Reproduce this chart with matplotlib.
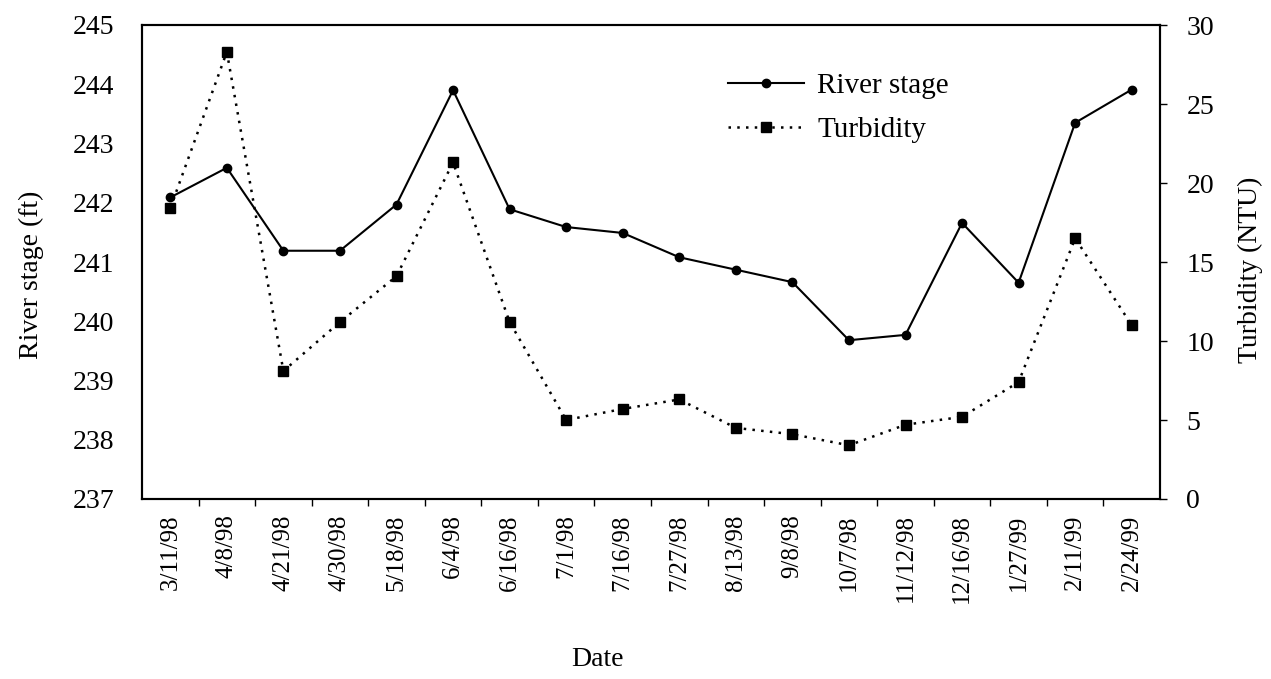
import matplotlib
matplotlib.use("Agg")
import matplotlib.pyplot as plt
from matplotlib.ticker import FixedLocator

plt.rcParams['font.family'] = ['Liberation Serif', 'DejaVu Serif']

dates = ["3/11/98", "4/8/98", "4/21/98", "4/30/98", "5/18/98", "6/4/98",
         "6/16/98", "7/1/98", "7/16/98", "7/27/98", "8/13/98", "9/8/98",
         "10/7/98", "11/12/98", "12/16/98", "1/27/99", "2/11/99", "2/24/99"]
river_stage = [242.09, 242.59, 241.19, 241.19, 241.97, 243.90, 241.89, 241.59,
               241.49, 241.08, 240.87, 240.66, 239.68, 239.77, 241.66, 240.65,
               243.35, 243.91]
turbidity = [18.4, 28.3, 8.1, 11.2, 14.1, 21.3, 11.2, 5.0, 5.7, 6.3, 4.5, 4.1,
             3.4, 4.7, 5.2, 7.4, 16.5, 11.0]
left_ticks = [237, 238, 239, 240, 241, 242, 243, 244, 245]
right_ticks = [0, 5, 10, 15, 20, 25, 30]

fig = plt.figure(figsize=(12.71, 6.79), dpi=100)
ax = fig.add_axes([142/1271, 1-499/679, (1160-142)/1271, (499-25)/679])
ax2 = ax.twinx()

x = list(range(len(dates)))
l1, = ax.plot(x, river_stage, color='black', lw=1.5, marker='o', markersize=6,
              label='River stage', zorder=3)
l2, = ax2.plot(x, turbidity, color='black', lw=1.8, linestyle=(0, (1, 2.5)),
               marker='s', markersize=7, label='Turbidity', zorder=3)

ax.set_xlim(-0.5, len(dates) - 0.5)
ax.set_ylim(237, 245)
ax2.set_ylim(0, 30)
ax.set_yticks(left_ticks)
ax2.set_yticks(right_ticks)
ax.set_xticks(x)
ax.set_xticklabels(dates, rotation=90, fontsize=18)
ax.xaxis.set_minor_locator(FixedLocator([i + 0.5 for i in range(len(dates) - 1)]))
ax.tick_params(axis='x', which='major', length=0, pad=11)
ax.tick_params(axis='x', which='minor', length=5, width=1, direction='out')
ax.tick_params(axis='y', length=0, pad=20, labelsize=20)
ax2.tick_params(axis='y', length=5, width=1, direction='out', pad=14, labelsize=20)

for a in (ax, ax2):
    for s in a.spines.values():
        s.set_linewidth(1.5)
        s.set_color('black')

ax.set_ylabel('River stage (ft)', fontsize=20)
ax.yaxis.set_label_coords(-0.096, 0.473)
ax2.set_ylabel('Turbidity (NTU)', fontsize=20)
ax2.yaxis.set_label_coords(1.0765, 0.483)
ax.set_xlabel('Date', fontsize=20)
ax.xaxis.set_label_coords(0.447, -0.312)

ax.legend([l1, l2], ['River stage', 'Turbidity'], loc='upper left',
          bbox_to_anchor=(0.55, 0.955), frameon=False, fontsize=21,
          handlelength=2.6, handletextpad=0.45, labelspacing=0.6)

fig.savefig('out.png', dpi=100)
